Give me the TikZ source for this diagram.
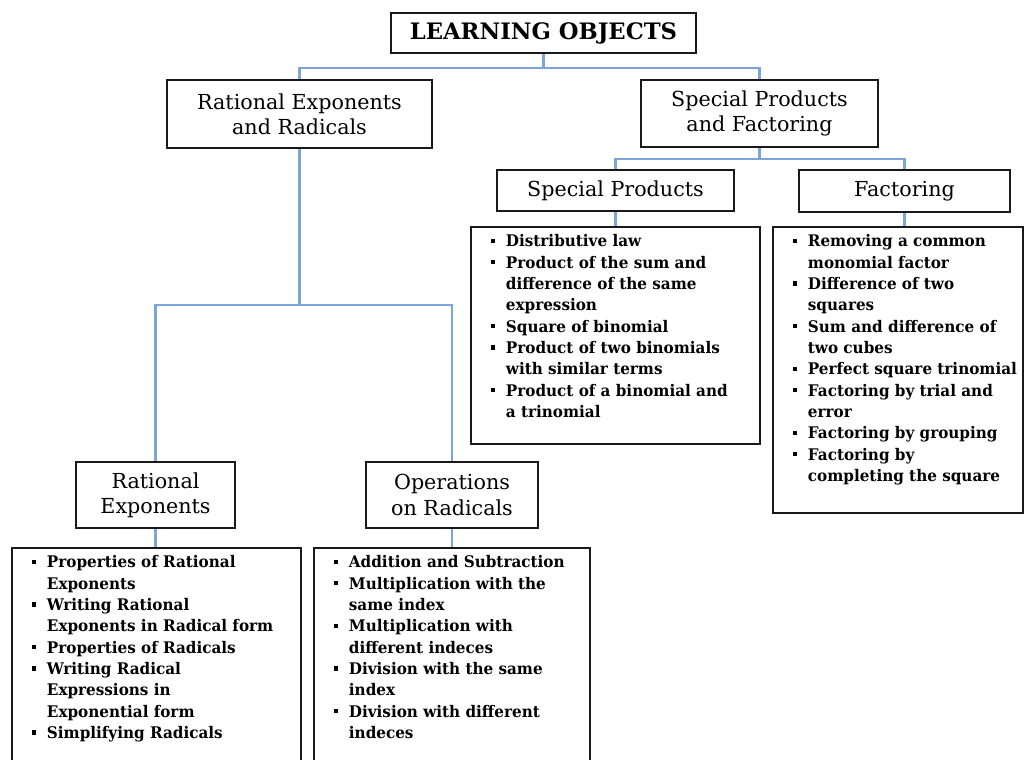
\documentclass[tikz,border=0pt]{standalone}
\usepackage{fontspec}
\setmainfont{DejaVu Serif}
\newfontfamily\listfont[FakeStretch=0.95]{DejaVu Serif}
\usetikzlibrary{shadows,backgrounds}
\definecolor{connblue}{RGB}{125,165,215}
\newcommand{\itm}[1]{\par\noindent\hangindent=11.25pt\hangafter=1\makebox[11.25pt][l]{\rule[2.8pt]{3.4pt}{3.4pt}}#1}
\newcommand{\lstbox}[3]{\parbox[t][#2][t]{#1}{\listfont\bfseries\fontsize{12}{16}\selectfont\leftskip=15pt\rightskip=0pt plus 1fil\parindent=0pt\vspace*{5.8pt}#3}}
\tikzset{
  boxshadow/.style={drop shadow={shadow xshift=0.9pt,shadow yshift=-0.9pt,fill=black!55,opacity=0.8}},
  headbox/.style={draw=black!90, line width=1.4pt, fill=white, boxshadow, inner sep=0pt, align=center, font=\fontsize{15.5}{19}\selectfont},
  listbox/.style={draw=black!90, line width=1.4pt, fill=white, boxshadow, inner sep=0pt, anchor=north west},
  conn/.style={draw=connblue, line width=1.8pt}
}
\begin{document}
\begin{tikzpicture}[x=0.75pt,y=-0.75pt]
\useasboundingbox (0,0) rectangle (1025,760);
\clip (0,0) rectangle (1025,760);
% heading boxes
\node[headbox, minimum width=228.75pt, minimum height=30pt, font=\bfseries\fontsize{17}{20}\selectfont] (top) at (543.5,33) {LEARNING OBJECTS};
\node[headbox, minimum width=198.75pt, minimum height=51pt] (rer) at (299.5,114) {Rational Exponents\\and Radicals};
\node[headbox, minimum width=177.75pt, minimum height=50.25pt] (spf) at (759.5,113.5) {Special Products\\and Factoring};
\node[headbox, minimum width=177.75pt, minimum height=30.75pt] (sp) at (615.5,190.5) {Special Products};
\node[headbox, minimum width=158.25pt, minimum height=31.5pt] (fac) at (904.5,191) {Factoring};
\node[headbox, minimum width=119.25pt, minimum height=49.5pt] (re) at (155.5,495) {Rational\\Exponents};
\node[headbox, minimum width=129pt, minimum height=49.5pt] (ops) at (452,495) {Operations\\on Radicals};
% list boxes
\node[listbox] (spl) at (470,226) {\lstbox{216.75pt}{162.75pt}{%
\itm{Distributive law}
\itm{Product of the sum and\\difference of the same\\expression}
\itm{Square of binomial}
\itm{Product of two binomials\\with similar terms}
\itm{Product of a binomial and\\a trinomial}}};
\node[listbox] (fl) at (772,226) {\lstbox{187.5pt}{214.5pt}{%
\itm{Removing a common\\monomial factor}
\itm{Difference of two\\squares}
\itm{Sum and difference of\\two cubes}
\itm{Perfect square trinomial}
\itm{Factoring by trial and\\error}
\itm{Factoring by grouping}
\itm{Factoring by\\completing the square}}};
\node[listbox] (rel) at (11,547) {\lstbox{216.75pt}{195pt}{%
\itm{Properties of Rational\\Exponents}
\itm{Writing Rational\\Exponents in Radical form}
\itm{Properties of Radicals}
\itm{Writing Radical\\Expressions in\\Exponential form}
\itm{Simplifying Radicals}}};
\node[listbox] (opl) at (313,547) {\lstbox{207pt}{195pt}{%
\itm{Addition and Subtraction}
\itm{Multiplication with the\\same index}
\itm{Multiplication with\\different indeces}
\itm{Division with the same\\index}
\itm{Division with different\\indeces}}};
% connectors
\begin{scope}[on background layer]
\fill[white] (0,0) rectangle (1025,760);
\draw[conn] (top.south) -- ++(0,14) -| (rer.north);
\draw[conn] (top.south) -- ++(0,14) -| (spf.north);
\draw[conn] (rer.south) -- ++(0,156) -| (re.north);
\draw[conn] (rer.south) -- ++(0,156) -| (ops.north);
\draw[conn] (spf.south) -- ++(0,11) -| (sp.north);
\draw[conn] (spf.south) -- ++(0,11) -| (fac.north);
\draw[conn] (sp.south) -- (sp.south |- spl.north);
\draw[conn] (fac.south) -- (fac.south |- fl.north);
\draw[conn] (re.south) -- (re.south |- rel.north);
\draw[conn] (ops.south) -- (ops.south |- opl.north);
\end{scope}
\end{tikzpicture}
\end{document}
